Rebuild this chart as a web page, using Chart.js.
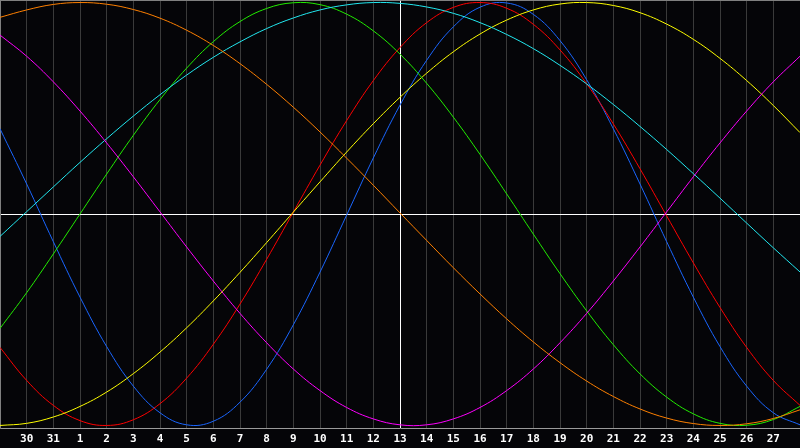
<!DOCTYPE html>
<html>
<head>
<meta charset="utf-8">
<script src="https://cdn.jsdelivr.net/npm/chart.js@4"></script>
<style>
  html, body { margin: 0; padding: 0; background: #050508; }
  #wrap { width: 800px; height: 448px; position: relative; }
</style>
</head>
<body>
<div id="wrap"><canvas id="c"></canvas></div>
<script>
// Day labels (grid index 0..30); first and last are not shown
const days = [29, 30, 31, 1, 2, 3, 4, 5, 6, 7, 8, 9, 10, 11, 12, 13, 14, 15, 16, 17, 18, 19, 20, 21, 22, 23, 24, 25, 26, 27, 28];
const todayIndex = 15;

// Curve values (range -1..1), one per day
const blueVals = [0.403, 0.142, -0.131, -0.393, -0.627, -0.814, -0.940, -0.997, -0.980, -0.890, -0.734, -0.524, -0.275, -0.005, 0.265, 0.515, 0.727, 0.885, 0.978, 0.998, 0.944, 0.820, 0.635, 0.403, 0.142, -0.131, -0.393, -0.627, -0.814, -0.940, -0.997];
const redVals = [-0.631, -0.787, -0.905, -0.977, -1.000, -0.973, -0.897, -0.776, -0.616, -0.426, -0.214, 0.009, 0.231, 0.442, 0.631, 0.787, 0.905, 0.977, 1.000, 0.973, 0.897, 0.776, 0.616, 0.426, 0.214, -0.009, -0.231, -0.442, -0.631, -0.787, -0.905];
const greenVals = [-0.541, -0.372, -0.189, 0.000, 0.189, 0.372, 0.541, 0.690, 0.815, 0.910, 0.972, 0.999, 0.990, 0.945, 0.866, 0.756, 0.618, 0.458, 0.282, 0.095, -0.095, -0.282, -0.458, -0.618, -0.756, -0.866, -0.945, -0.990, -0.999, -0.972, -0.910];
const yellowVals = [-1.000, -0.990, -0.960, -0.910, -0.842, -0.755, -0.653, -0.538, -0.411, -0.276, -0.135, 0.009, 0.152, 0.293, 0.427, 0.552, 0.666, 0.767, 0.851, 0.917, 0.965, 0.993, 1.000, 0.986, 0.952, 0.898, 0.826, 0.736, 0.631, 0.513, 0.385];
const magentaVals = [0.846, 0.746, 0.625, 0.487, 0.336, 0.176, 0.010, -0.156, -0.317, -0.470, -0.609, -0.733, -0.835, -0.915, -0.969, -0.997, -0.997, -0.969, -0.915, -0.835, -0.733, -0.609, -0.470, -0.317, -0.156, 0.010, 0.176, 0.336, 0.487, 0.625, 0.746];
const cyanVals = [-0.106, 0.011, 0.128, 0.244, 0.356, 0.463, 0.564, 0.657, 0.741, 0.814, 0.877, 0.927, 0.965, 0.989, 1.000, 0.996, 0.979, 0.949, 0.905, 0.849, 0.782, 0.703, 0.615, 0.518, 0.414, 0.305, 0.191, 0.075, -0.043, -0.160, -0.274];
const orangeVals = [0.930, 0.965, 0.991, 1.000, 0.992, 0.967, 0.926, 0.869, 0.797, 0.711, 0.613, 0.505, 0.388, 0.264, 0.136, 0.005, -0.125, -0.254, -0.378, -0.496, -0.605, -0.703, -0.790, -0.863, -0.922, -0.965, -0.991, -1.000, -0.992, -0.967, -0.926];

const series = [
  { data: orangeVals, color: '#ff8000' },
  { data: magentaVals, color: '#ff00ff' },
  { data: cyanVals, color: '#22e8f0' },
  { data: greenVals, color: '#22ee00' },
  { data: yellowVals, color: '#ffff00' },
  { data: redVals, color: '#ff0000' },
  { data: blueVals, color: '#1a66ff' }
];

const yMin = -1.012, yMax = 1.012;

new Chart(document.getElementById('c'), {
  type: 'line',
  data: {
    labels: days.map(String),
    datasets: series.map(s => ({
      data: s.data,
      borderColor: s.color,
      borderWidth: 1,
      pointRadius: 0,
      tension: 0.4,
      fill: false
    }))
  },
  options: {
    responsive: true,
    maintainAspectRatio: false,
    devicePixelRatio: 1,
    animation: false,
    layout: { padding: 0 },
    plugins: { legend: { display: false }, tooltip: { enabled: false } },
    scales: {
      x: {
        type: 'category',
        offset: false,
        afterFit: scale => { scale.height = 20; },
        grid: {
          drawTicks: true,
          tickLength: 4.5,
          tickColor: 'rgba(0,0,0,0)',
          lineWidth: 1,
          color: ctx => {
            const i = ctx.index;
            if (i === todayIndex) return '#ffffff';
            if (i === 0) return '#808080';
            if (i === days.length - 1) return '#5a5a5a';
            return '#3a3a3a';
          }
        },
        border: { display: true, color: '#9a9a9a', width: 1 },
        ticks: {
          color: '#ffffff',
          autoSkip: false,
          maxRotation: 0,
          padding: 0,
          font: { family: 'DejaVu Sans Mono', weight: 'bold', size: 11 },
          callback: (v, i) => (i === 0 || i === days.length - 1) ? '' : String(days[i])
        }
      },
      y: {
        type: 'linear',
        min: yMin,
        max: yMax,
        afterBuildTicks: scale => {
          scale.ticks = [{ value: yMin }, { value: 0 }, { value: yMax }];
        },
        ticks: { display: false },
        grid: {
          drawTicks: false,
          lineWidth: 1,
          color: ctx => {
            const v = ctx.tick ? ctx.tick.value : null;
            if (v === 0) return '#ffffff';
            if (v === yMax) return '#808080';
            return 'rgba(0,0,0,0)';
          }
        },
        border: { display: true, color: '#808080', width: 1 }
      }
    }
  }
});
</script>
</body>
</html>
